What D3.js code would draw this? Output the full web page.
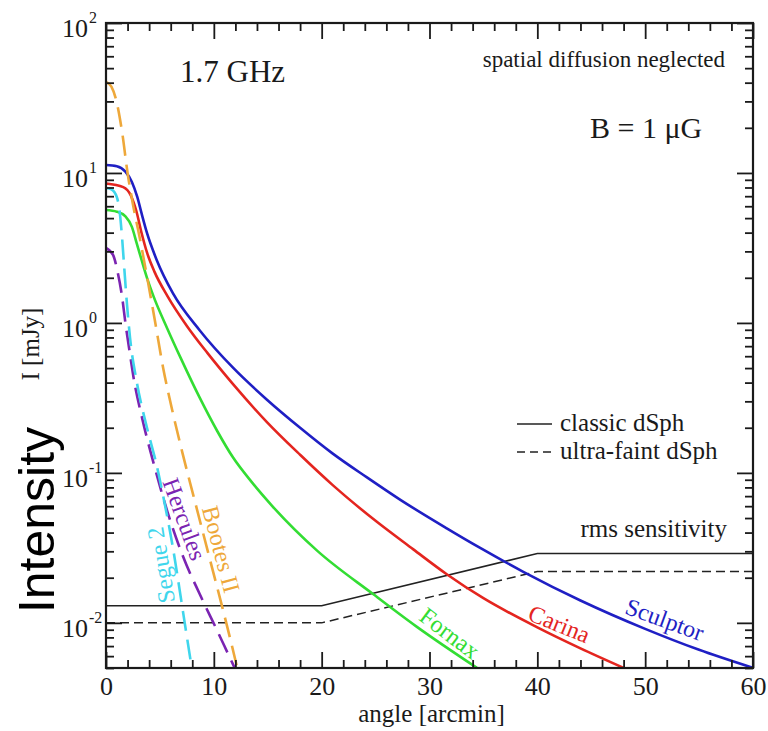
<!DOCTYPE html>
<html>
<head>
<meta charset="utf-8">
<script src="https://cdn.jsdelivr.net/npm/d3@7"></script>
<style>
  body { margin: 0; background: #fff; }
  svg text { font-family: "Liberation Serif", "Times New Roman", serif; fill: #1a1a1a; }
</style>
</head>
<body>
<svg id="chart" width="768" height="731"></svg>
<script>
// Radial synchrotron intensity profiles of dwarf spheroidals at 1.7 GHz (B = 1 muG)

// angle [arcmin] and intensity [mJy] per galaxy
const sculptorAngle = [0, 1.0, 1.8, 2.4, 2.9, 3.3, 3.8, 4.7, 6.2, 8.7, 11.8, 14.9, 18, 21, 24.2, 27.3, 31.6, 34.7, 38.7, 44, 50, 55, 60];
const sculptorI     = [11.3, 11.1, 10.2, 8.71, 6.92, 5.37, 3.98, 2.63, 1.58, 0.891, 0.501, 0.309, 0.200, 0.135, 0.0933, 0.0661, 0.0427, 0.0316, 0.0219, 0.0141, 0.00912, 0.00661, 0.00501];

const carinaAngle = [0, 1.6, 2.3, 2.8, 3.3, 3.8, 4.5, 5.7, 7.5, 9.4, 11.8, 14.9, 18, 21, 25, 28.5, 31.6, 35, 40, 44, 48];
const carinaI     = [8.51, 8.04, 7.08, 5.62, 3.98, 2.95, 2.19, 1.51, 0.955, 0.631, 0.389, 0.219, 0.132, 0.0832, 0.0479, 0.0309, 0.0211, 0.0146, 0.00933, 0.00676, 0.00501];

const fornaxAngle = [0, 1.0, 1.8, 2.4, 2.85, 3.3, 3.8, 4.4, 5.7, 6.9, 8.7, 10.3, 11.8, 13.5, 15.4, 19.6, 24.8, 28.8, 34.4];
const fornaxI     = [5.66, 5.52, 5.13, 4.37, 3.39, 2.63, 2.0, 1.51, 0.912, 0.589, 0.316, 0.191, 0.126, 0.0871, 0.0603, 0.0302, 0.0155, 0.00944, 0.00501];

const bootesAngle = [0, 0.5, 1.0, 1.5, 2.0, 2.5, 3.15, 3.8, 4.5, 5.3, 6.2, 7.1, 8.1, 9.0, 9.9, 10.8, 11.5, 12.2];
const bootesI     = [40.5, 37.6, 29.5, 18.6, 10.0, 6.17, 3.63, 2.04, 1.07, 0.501, 0.251, 0.135, 0.0708, 0.0398, 0.0224, 0.0126, 0.00794, 0.0049];

const herculesAngle = [0, 0.65, 1.1, 1.5, 1.8, 2.25, 2.5, 3.4, 4.4, 5.7, 7.1, 8.7, 10.3, 11.8, 12.0];
const herculesI     = [3.16, 2.84, 2.15, 1.48, 1.0, 0.603, 0.457, 0.224, 0.117, 0.055, 0.0282, 0.0155, 0.00891, 0.00525, 0.0049];

const segueAngle = [0, 0.5, 1.0, 1.3, 1.5, 1.7, 1.95, 2.23, 2.87, 3.8, 4.73, 5.29, 6.21, 7.0, 7.3, 7.95];
const segueI     = [7.94, 7.76, 6.92, 5.25, 3.63, 2.29, 1.32, 0.794, 0.398, 0.200, 0.110, 0.0708, 0.0316, 0.0138, 0.0100, 0.00501];

// rms sensitivity of the survey
const rmsAngle      = [0, 20, 40, 60];
const rmsClassic    = [0.013, 0.013, 0.029, 0.029];
const rmsUltraFaint = [0.010, 0.010, 0.022, 0.022];

// axis ticks
const xTickMajor = [0, 10, 20, 30, 40, 50, 60];
const xTickMinor = d3.range(0, 61, 2).filter(v => v % 10 !== 0);
const yTickExp   = [-2, -1, 0, 1, 2];
const yTickMinor = [5e-3, 6e-3, 7e-3, 8e-3, 9e-3]
  .concat(...[-2, -1, 0, 1].map(e => [2, 3, 4, 5, 6, 7, 8, 9].map(k => k * Math.pow(10, e))));

// layout
const L = 106, R = 753, T = 23, B = 668;
const svg = d3.select("#chart");

const x = d3.scaleLinear().domain([0, 60]).range([L, R]);
const y = d3.scaleLog().domain([0.005, 100]).range([B, T]);

const zip = (a, b) => a.map((v, i) => [v, b[i]]);

const series = [
  { name: "Sculptor",  pts: zip(sculptorAngle, sculptorI),  color: "#1f1fc4", dash: null,
    label: { a: 51.75, v: 0.0102, rot: 20 } },
  { name: "Carina",    pts: zip(carinaAngle, carinaI),      color: "#e4251f", dash: null,
    label: { a: 41.96, v: 0.00955, rot: 22 } },
  { name: "Fornax",    pts: zip(fornaxAngle, fornaxI),      color: "#33dd33", dash: null,
    label: { a: 31.76, v: 0.0083, rot: 37 } },
  { name: "Bootes II", pts: zip(bootesAngle, bootesI),      color: "#eea83a", dash: "20,9",
    label: { a: 10.48, v: 0.0307, rot: 75 } },
  { name: "Hercules",  pts: zip(herculesAngle, herculesI),  color: "#7b24b2", dash: "20,9",
    label: { a: 7.09, v: 0.0486, rot: 70 } },
  { name: "Segue 2",   pts: zip(segueAngle, segueI),        color: "#3fd6ec", dash: "20,9",
    label: { a: 5.29, v: 0.0244, rot: -99 } }
];

svg.append("defs").append("clipPath").attr("id", "plotclip")
  .append("rect").attr("x", L).attr("y", T).attr("width", R - L).attr("height", B - T);

const plot = svg.append("g").attr("clip-path", "url(#plotclip)");

const line = d3.line().x(d => x(d[0])).y(d => y(d[1])).curve(d3.curveMonotoneX);
const straight = d3.line().x(d => x(d[0])).y(d => y(d[1]));

// sensitivity lines
plot.append("path").attr("d", straight(zip(rmsAngle, rmsClassic)))
  .attr("fill", "none").attr("stroke", "#222").attr("stroke-width", 1.5);
plot.append("path").attr("d", straight(zip(rmsAngle, rmsUltraFaint)))
  .attr("fill", "none").attr("stroke", "#222").attr("stroke-width", 1.5).attr("stroke-dasharray", "9,5");

// galaxy profiles
plot.selectAll("path.profile").data(series).join("path")
  .attr("class", "profile")
  .attr("d", d => line(d.pts))
  .attr("fill", "none")
  .attr("stroke", d => d.color)
  .attr("stroke-width", 2.6)
  .attr("stroke-dasharray", d => d.dash);

// curve labels
svg.selectAll("text.clabel").data(series).join("text")
  .attr("class", "clabel")
  .attr("transform", d => `translate(${x(d.label.a)},${y(d.label.v)}) rotate(${d.label.rot})`)
  .attr("text-anchor", "middle")
  .attr("dy", "0.25em")
  .style("font-size", "24px")
  .style("fill", d => d.color)
  .text(d => d.name);

// axes with inward ticks on all four sides
function styleAxis(g) {
  g.select(".domain").remove();
  g.attr("color", "#1a1a1a");
  g.selectAll(".tick line").attr("stroke-width", 1.8);
}
svg.append("g").attr("transform", `translate(0,${B})`)
  .call(d3.axisBottom(x).tickValues(xTickMajor).tickSizeInner(-16).tickSizeOuter(0).tickPadding(9).tickFormat(d3.format("d")))
  .call(styleAxis)
  .call(g => g.selectAll("text").style("font-size", "26px").attr("font-family", null));
svg.append("g").attr("transform", `translate(0,${B})`)
  .call(d3.axisBottom(x).tickValues(xTickMinor).tickSizeInner(-8).tickSizeOuter(0).tickFormat(""))
  .call(styleAxis);
svg.append("g").attr("transform", `translate(0,${T})`)
  .call(d3.axisTop(x).tickValues(xTickMajor).tickSizeInner(-16).tickSizeOuter(0).tickFormat(""))
  .call(styleAxis);
svg.append("g").attr("transform", `translate(0,${T})`)
  .call(d3.axisTop(x).tickValues(xTickMinor).tickSizeInner(-8).tickSizeOuter(0).tickFormat(""))
  .call(styleAxis);

const yMajor = yTickExp.map(e => Math.pow(10, e));
svg.append("g").attr("transform", `translate(${L},0)`)
  .call(d3.axisLeft(y).tickValues(yMajor).tickSizeInner(-16).tickSizeOuter(0).tickFormat(""))
  .call(styleAxis);
svg.append("g").attr("transform", `translate(${L},0)`)
  .call(d3.axisLeft(y).tickValues(yTickMinor).tickSizeInner(-8).tickSizeOuter(0).tickFormat(""))
  .call(styleAxis);
svg.append("g").attr("transform", `translate(${R},0)`)
  .call(d3.axisRight(y).tickValues(yMajor).tickSizeInner(-16).tickSizeOuter(0).tickFormat(""))
  .call(styleAxis);
svg.append("g").attr("transform", `translate(${R},0)`)
  .call(d3.axisRight(y).tickValues(yTickMinor).tickSizeInner(-8).tickSizeOuter(0).tickFormat(""))
  .call(styleAxis);

// y tick labels as 10^n
const ylab = svg.append("g");
yTickExp.forEach(e => {
  const yy = y(Math.pow(10, e));
  ylab.append("text").attr("x", L - 18).attr("y", yy + 14)
    .attr("text-anchor", "end").style("font-size", "26px").text("10");
  ylab.append("text").attr("x", L - 17).attr("y", yy)
    .attr("text-anchor", "start").style("font-size", "16px").text(String(e));
});

// frame
svg.append("rect").attr("x", L).attr("y", T).attr("width", R - L).attr("height", B - T)
  .attr("fill", "none").attr("stroke", "#1a1a1a").attr("stroke-width", 2.2);

// axis titles
svg.append("text").attr("x", (L + R) / 2 + 2).attr("y", 722)
  .attr("text-anchor", "middle").style("font-size", "25px").text("angle [arcmin]");
svg.append("text").attr("transform", "translate(39,344) rotate(-90)")
  .attr("text-anchor", "middle").style("font-size", "25px").text("I [mJy]");
svg.append("text").attr("transform", "translate(54,520) rotate(-90)")
  .attr("text-anchor", "middle")
  .style("font-family", "'Liberation Sans', Arial, sans-serif").style("font-size", "50px").style("fill", "#000")
  .text("Intensity");

// annotations
svg.append("text").attr("x", 180).attr("y", 82).style("font-size", "31px").text("1.7 GHz");
svg.append("text").attr("x", 725).attr("y", 67).attr("text-anchor", "end")
  .style("font-size", "23px").text("spatial diffusion neglected");
svg.append("text").attr("x", 590).attr("y", 138).style("font-size", "30px").text("B = 1 \u03BCG");
svg.append("text").attr("x", 727).attr("y", 537).attr("text-anchor", "end")
  .style("font-size", "25px").text("rms sensitivity");

// legend
const legend = svg.append("g");
[{ label: "classic dSph", dash: null, yy: 424 }, { label: "ultra-faint dSph", dash: "8,5", yy: 452 }]
  .forEach(d => {
    legend.append("line").attr("x1", 517).attr("x2", 552).attr("y1", d.yy).attr("y2", d.yy)
      .attr("stroke", "#222").attr("stroke-width", 1.5).attr("stroke-dasharray", d.dash);
    legend.append("text").attr("x", 560).attr("y", d.yy + 7).style("font-size", "25px").text(d.label);
  });
</script>
</body>
</html>
